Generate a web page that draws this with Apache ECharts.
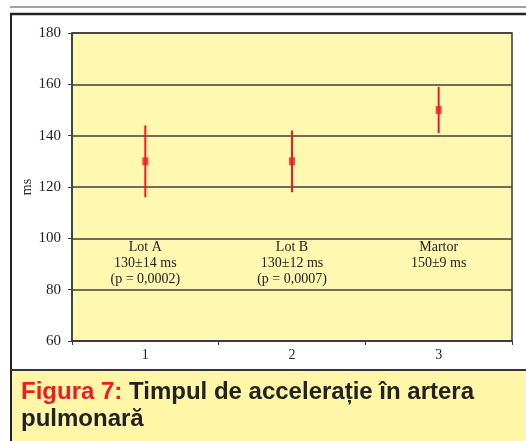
<!DOCTYPE html>
<html>
<head>
<meta charset="utf-8">
<script src="https://cdn.jsdelivr.net/npm/echarts@6/dist/echarts.min.js"></script>
<style>
  html, body { margin: 0; padding: 0; background: #fff; }
  #chart { width: 526px; height: 441px; }
</style>
</head>
<body>
<div id="chart"></div>
<script>
  // values
  const categories = ['1', '2', '3'];
  const groupNames = ['Lot A', 'Lot B', 'Martor'];
  const means = [130, 130, 150];
  const sds = [14, 12, 9];
  const pValues = ['(p = 0,0002)', '(p = 0,0007)', ''];
  const labelLevel = 100;
  const yTicks = { min: 60, max: 180, interval: 20 };
  const yName = 'ms';

  const serif = '"Liberation Serif", "Times New Roman", serif';
  const sans = '"Liberation Sans", Arial, sans-serif';
  const red = '#ec1c24';
  const dark = '#3a3a3a';

  const chart = echarts.init(document.getElementById('chart'));

  const barData = means.map((m, i) => [i, m - sds[i], m + sds[i]]);
  const labelData = groupNames.map((g, i) => {
    let txt = g + '\n' + means[i] + '±' + sds[i] + ' ms';
    if (pValues[i]) txt += '\n' + pValues[i];
    return { value: [i, labelLevel], txt: txt };
  });

  const options = {
    animation: false,
    grid: {
      left: 72, top: 33, right: 14, bottom: 100,
      show: true,
      backgroundColor: '#fff8b0',
      borderColor: dark,
      borderWidth: 1.5
    },
    xAxis: {
      type: 'category',
      data: categories,
      boundaryGap: true,
      axisLine: { lineStyle: { color: dark, width: 1.5 } },
      axisTick: { show: true, length: 4, lineStyle: { color: dark } },
      axisLabel: { fontFamily: serif, fontSize: 14, color: '#222', margin: 7 },
      splitLine: { show: false }
    },
    yAxis: {
      type: 'value',
      min: yTicks.min,
      max: yTicks.max,
      interval: yTicks.interval,
      axisLine: { show: true, lineStyle: { color: dark, width: 1.5 } },
      axisTick: { show: true, length: 4, lineStyle: { color: dark } },
      axisLabel: { fontFamily: serif, fontSize: 15, color: '#222', margin: 11 },
      splitLine: { show: true, lineStyle: { color: '#3e3e3e', width: 1.5 } }
    },
    series: [
      {
        type: 'custom',
        data: barData,
        z: 3,
        renderItem: function (params, api) {
          const lo = api.coord([api.value(0), api.value(1)]);
          const hi = api.coord([api.value(0), api.value(2)]);
          return {
            type: 'line',
            shape: { x1: lo[0], y1: lo[1], x2: hi[0], y2: hi[1] },
            style: { stroke: red, lineWidth: 2 }
          };
        }
      },
      {
        type: 'scatter',
        data: means.map((m, i) => [i, m]),
        symbol: 'rect',
        symbolSize: [6, 8],
        itemStyle: { color: red },
        z: 4
      },
      {
        type: 'custom',
        data: labelData,
        z: 5,
        renderItem: function (params, api) {
          const pt = api.coord([api.value(0), api.value(1)]);
          return {
            type: 'text',
            x: pt[0],
            y: pt[1] + 1,
            style: {
              text: labelData[params.dataIndex].txt,
              fontFamily: serif,
              fontSize: 14,
              lineHeight: 16,
              fill: '#222',
              align: 'center',
              verticalAlign: 'top'
            }
          };
        }
      }
    ],
    graphic: [
      { type: 'line', shape: { x1: 10, y1: 7, x2: 526, y2: 7 }, style: { stroke: '#444', lineWidth: 1 } },
      { type: 'line', shape: { x1: 10, y1: 14, x2: 526, y2: 14 }, style: { stroke: '#222', lineWidth: 2.5 } },
      { type: 'line', shape: { x1: 11, y1: 13, x2: 11, y2: 441 }, style: { stroke: '#222', lineWidth: 2 } },
      {
        type: 'text',
        x: 27,
        y: 187,
        rotation: Math.PI / 2,
        style: {
          text: yName, fontFamily: serif, fontSize: 14, fill: '#222',
          align: 'center', verticalAlign: 'middle'
        }
      },
      { type: 'rect', shape: { x: 12, y: 371, width: 514, height: 70 }, style: { fill: '#fff6a8' } },
      { type: 'line', shape: { x1: 10, y1: 370, x2: 526, y2: 370 }, style: { stroke: '#333', lineWidth: 2 } },
      {
        type: 'text',
        left: 21,
        top: 380,
        style: {
          text: '{r|Figura 7: }{b|Timpul de accelerație în artera}\n{b|pulmonară}',
          rich: {
            r: { fill: red, fontFamily: sans, fontWeight: 'bold', fontSize: 24, lineHeight: 27 },
            b: { fill: '#222', fontFamily: sans, fontWeight: 'bold', fontSize: 24, lineHeight: 27 }
          }
        }
      }
    ]
  };
  chart.setOption(options);
</script>
</body>
</html>
